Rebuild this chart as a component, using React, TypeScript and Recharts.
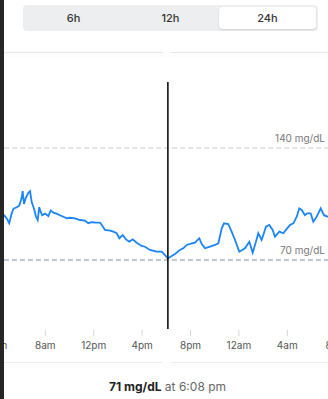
import { LineChart, Line, XAxis, YAxis, ReferenceLine } from "recharts";

// hours since midnight of the first day (24+ = next day)
const hours = [
  4.26, 4.59, 4.81, 5.02, 5.22, 5.36, 5.64, 5.85, 6.05, 6.13, 6.24, 6.4, 6.6, 6.74, 6.88,
  7.07, 7.23, 7.37, 7.5, 7.62, 7.75, 7.98, 8.25, 8.45, 8.66, 8.94, 9.21, 9.49, 9.77,
  10.04, 10.45, 10.87, 11.28, 11.55, 11.83, 12.25, 12.52, 12.66, 12.93, 13.35, 13.62,
  13.9, 14.12, 14.4, 14.67, 14.94, 15.22, 15.55, 15.97, 16.24, 16.65, 17.21, 17.62,
  17.89, 18.13, 18.45, 18.72, 19.13, 19.4, 19.69, 20.1, 20.37, 20.73, 20.93, 21.2,
  21.61, 22.02, 22.3, 22.58, 22.77, 23.12, 23.4, 23.68, 24.03, 24.5, 24.86, 25.14,
  25.41, 25.6, 25.88, 26.24, 26.51, 26.79, 26.98, 27.34, 27.67, 27.89, 28.22, 28.5,
  28.78, 28.99, 29.19, 29.46, 29.65, 29.93, 30.15, 30.43, 30.76, 31.03, 31.36,
];

const glucose = [
  98, 98, 96, 93, 99, 102, 103, 104, 109, 113, 105, 109, 112, 113, 106,
  102, 97, 95, 103, 100, 98, 99, 97.5, 101, 99.6, 99, 98, 97, 96,
  96.4, 96, 95, 94.6, 93, 93.6, 93.3, 93.3, 92, 88.8, 88.3, 87.7,
  86.7, 83.6, 85.6, 82.9, 81.4, 82.9, 80.8, 78.8, 78.3, 76.3, 75.2, 75.2,
  73, 71, 72.5, 73.8, 76.3, 77.3, 79.4, 80.4, 80.8, 83.6, 80, 77.3,
  78.3, 79.4, 80.4, 89.8, 92.9, 92.5, 87.7, 82.5, 75.2, 77.3, 81.4, 74.6,
  81.4, 86.7, 82.5, 90.8, 91.9, 88.8, 84.6, 87.7, 86.7, 88.8, 91.9, 92.9,
  97.1, 102.3, 101.3, 98, 99.2, 99.2, 93.9, 97.1, 102.3, 98, 97,
];

const tickHours = [4, 8, 12, 16, 20, 24, 28, 32];
const tickLabels = ["4am", "8am", "12pm", "4pm", "8pm", "12am", "4am", "8am"];
const ranges = ["6h", "12h", "24h"];
const targetLow = 70;
const targetHigh = 140;
const selectedIndex = 54;
const selectedTime = "6:08 pm";

const data = hours.map((h, i) => ({ h, v: glucose[i] }));
const FONT = "Inter, 'Noto Sans', sans-serif";

function RangeLabel(props: any) {
  const { viewBox, value } = props;
  return (
    <text
      x={viewBox.x + viewBox.width - 23}
      y={viewBox.y - 6}
      textAnchor="end"
      fontSize={10}
      fill="#777"
      fontFamily={FONT}
    >
      {value}
    </text>
  );
}

function CursorLine(props: any) {
  return (
    <line x1={props.x1} y1={props.y1 - 1} x2={props.x2} y2={props.y2 + 26} stroke="#111" strokeWidth={1.6} />
  );
}

export default function App() {
  const sel = data[selectedIndex];
  return (
    <div
      style={{
        position: "fixed",
        left: 0,
        top: 0,
        width: 328,
        height: 399,
        overflow: "hidden",
        background: "#fff",
        fontFamily: FONT,
      }}
    >
      {/* range switcher */}
      <div
        style={{
          position: "absolute",
          left: 23,
          top: 5,
          width: 295,
          height: 26,
          background: "#eceeef",
          borderRadius: 4,
          display: "flex",
          alignItems: "center",
          padding: "0 2px",
          boxSizing: "border-box",
        }}
      >
        {ranges.map((r, i) => (
          <div
            key={r}
            style={{
              flex: 1,
              height: 22,
              lineHeight: "22px",
              textAlign: "center",
              fontSize: 11,
              fontWeight: 500,
              color: "#333",
              background: i === ranges.length - 1 ? "#fff" : "transparent",
              borderRadius: 4,
              boxShadow: i === ranges.length - 1 ? "0 1px 2px rgba(0,0,0,0.12)" : "none",
            }}
          >
            {r}
          </div>
        ))}
      </div>

      {/* header divider with pointer */}
      <div
        style={{
          position: "absolute",
          left: 0,
          top: 52,
          width: 328,
          height: 1,
          background: "#e6e6e6",
          boxShadow: "0 2px 4px rgba(0,0,0,0.07)",
        }}
      />
      <div
        style={{
          position: "absolute",
          left: 162,
          top: 51,
          width: 0,
          height: 0,
          borderLeft: "5px solid transparent",
          borderRight: "5px solid transparent",
          borderTop: "5px solid #fff",
        }}
      />

      <div style={{ position: "absolute", left: -20, top: 0 }}>
        <LineChart width={368} height={360} data={data} margin={{ top: 56, right: 0, bottom: 0, left: 0 }}>
          <XAxis
            dataKey="h"
            type="number"
            domain={[2.603, 33.017]}
            allowDataOverflow
            ticks={tickHours}
            interval={0}
            tickFormatter={(t: number) => tickLabels[tickHours.indexOf(t)]}
            axisLine={false}
            tickSize={6}
            tickMargin={6}
            tickLine={{ stroke: "#d4d4d4" }}
            tick={{ fill: "#555", fontSize: 10, fontFamily: FONT }}
            height={30}
          />
          <YAxis hide domain={[26.25, 197.5]} allowDataOverflow />
          <ReferenceLine
            y={targetHigh}
            stroke="#c6cbce"
            strokeDasharray="5 3"
            label={<RangeLabel value={`${targetHigh} mg/dL`} />}
          />
          <ReferenceLine
            y={targetLow}
            stroke="#7f939e"
            strokeDasharray="5 3"
            label={<RangeLabel value={`${targetLow} mg/dL`} />}
          />
          <Line
            type="linear"
            dataKey="v"
            stroke="#1a84fa"
            strokeWidth={1.8}
            dot={false}
            isAnimationActive={false}
          />
          <ReferenceLine x={sel.h} shape={CursorLine} />
        </LineChart>
      </div>

      {/* footer divider with pointer */}
      <div
        style={{
          position: "absolute",
          left: 0,
          top: 362,
          width: 328,
          height: 1,
          background: "#ececec",
          boxShadow: "0 2px 4px rgba(0,0,0,0.05)",
        }}
      />
      <div
        style={{
          position: "absolute",
          left: 162,
          top: 357,
          width: 0,
          height: 0,
          borderLeft: "5px solid transparent",
          borderRight: "5px solid transparent",
          borderBottom: "6px solid #fff",
        }}
      />

      <div
        style={{
          position: "absolute",
          left: 0,
          top: 379,
          width: 335,
          textAlign: "center",
          fontSize: 12,
          color: "#666",
        }}
      >
        <span style={{ fontWeight: 700, color: "#222" }}>{Math.round(sel.v)} mg/dL</span> at {selectedTime}
      </div>

      {/* left edge strip */}
      <div style={{ position: "absolute", left: 0, top: 0, width: 4, height: 399, background: "#262626" }} />
    </div>
  );
}
